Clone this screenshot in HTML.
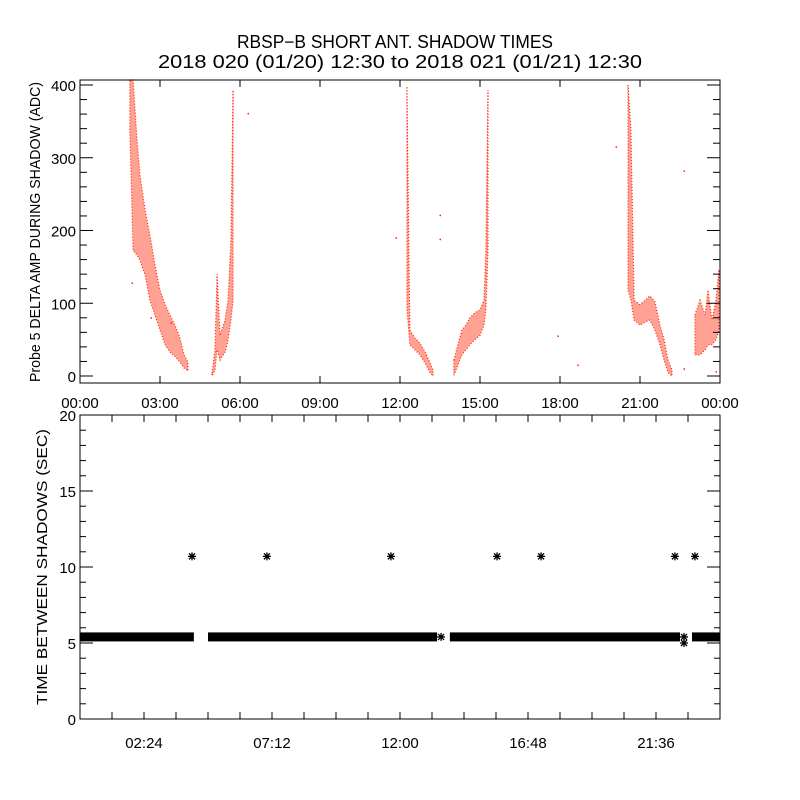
<!DOCTYPE html>
<html><head><meta charset="utf-8"><style>
body{margin:0;background:#fff}
svg{display:block;font-family:"Liberation Sans",sans-serif}
</style></head><body>
<svg id="c" width="800" height="800" viewBox="0 0 800 800">
<rect width="800" height="800" fill="#fff"/>
<text x="395" y="48" font-size="18" text-anchor="middle" textLength="316" lengthAdjust="spacingAndGlyphs">RBSP−B SHORT ANT. SHADOW TIMES</text>
<text x="400" y="68" font-size="18" text-anchor="middle" textLength="484" lengthAdjust="spacingAndGlyphs">2018 020 (01/20) 12:30 to 2018 021 (01/21) 12:30</text>
<text transform="translate(40,232) rotate(-90)" font-size="15" text-anchor="middle" textLength="300" lengthAdjust="spacingAndGlyphs">Probe 5 DELTA AMP DURING SHADOW (ADC)</text>
<text transform="translate(47,567) rotate(-90)" font-size="15" text-anchor="middle" textLength="276" lengthAdjust="spacingAndGlyphs">TIME BETWEEN SHADOWS (SEC)</text>
<g id="topPanel"></g><g id="botPanel"></g>
</svg>
<script>
// ---- top panel data: envelope samples [hour, low, high] ----
const pass1 = [[1.87,338,407],[1.99,173,407],[2.14,166,324],[2.25,159,276],[2.44,139,228],[2.62,104,194],[2.81,84,153],[3.0,63,118],[3.19,43,98],[3.37,33,84],[3.56,27,70],[3.75,19,52],[3.9,11,29],[4.05,7,19]];
const pass2 = [[4.95,0,4],[5.06,8,36],[5.14,36,140],[5.25,22,56],[5.44,33,77],[5.55,49,104],[5.66,77,187],[5.74,104,393]];
const pass3 = [[12.26,93,397],[12.37,43,63],[12.56,36,52],[12.75,29,45],[12.94,18,33],[13.12,5,19],[13.24,0,8]];
const pass4 = [[14.02,1,22],[14.17,15,43],[14.32,29,63],[14.47,36,70],[14.62,43,80],[14.81,50,87],[15.0,56,91],[15.15,70,104],[15.22,91,173],[15.3,173,393]];
const pass5 = [[20.55,118,400],[20.66,104,338],[20.78,77,104],[21.0,70,98],[21.19,74,104],[21.37,77,110],[21.56,63,102],[21.75,43,70],[21.9,22,50],[22.05,5,22],[22.2,0,8]];
const pass6 = [[23.06,29,84],[23.25,29,104],[23.44,36,84],[23.55,43,118],[23.7,43,77],[23.85,50,104],[23.96,63,146]];
const strayHours = [13.5,13.5,11.85,17.92,18.67,20.1,22.65,22.65,23.85,6.3,1.95,2.66,3.41];
const strayValues = [221,188,190,55,15,315,282,10,6,361,128,80,73];
const topXTicks = ["00:00","03:00","06:00","09:00","12:00","15:00","18:00","21:00","00:00"];
const topYTicks = [0,100,200,300,400];
// ---- bottom panel data ----
const bandStarts = [0,4.8,13.87,22.95];
const bandEnds = [4.27,13.39,22.5,24];
const bandValue = 5.4;
const starHours = [4.2,7.01,11.66,15.64,17.29,22.31,23.06,13.54,22.65,22.65];
const starValues = [10.7,10.7,10.7,10.7,10.7,10.7,10.7,5.4,5.4,5.0];
const botXTicks = ["02:24","07:12","12:00","16:48","21:36"];
const botYTicks = [0,5,10,15,20];

const NS="http://www.w3.org/2000/svg";
function mk(p,t,a){const e=document.createElementNS(NS,t);for(const k in a)e.setAttribute(k,a[k]);p.appendChild(e);return e;}
const L=80,R=720;
const tx=h=>L+h*(R-L)/24;
const ty=v=>376-v*0.7275;
const bx=h=>L+h*(R-L)/24;
const by=v=>719-v*15.2;
const topG=document.getElementById('topPanel'), botG=document.getElementById('botPanel');

[pass1,pass2,pass3,pass4,pass5,pass6].forEach((ps,i)=>{
  let d="M"+ps.map(p=>tx(p[0])+","+ty(p[2])).join("L")+"L"+ps.slice().reverse().map(p=>tx(p[0])+","+ty(p[1])).join("L")+"Z";
  const e=mk(topG,'path',{d:d,fill:'#ff2200','fill-opacity':0.42,stroke:'#ff2200','stroke-width':1.2,'stroke-dasharray':'1 2'});
  
  
});
strayHours.forEach((h,i)=>{
  const e=mk(topG,'rect',{x:tx(h)-0.5,y:ty(strayValues[i])-0.5,width:1.5,height:1.5,fill:'#ff2200'});
  
  
});
const tf=mk(topG,'rect',{x:L,y:80,width:R-L,height:303,fill:'none',stroke:'#000','stroke-width':1});


topXTicks.forEach((t,i)=>{
  const x=tx(i*3);
  mk(topG,'line',{x1:x,x2:x,y1:383,y2:376,stroke:'#000'});
  mk(topG,'line',{x1:x,x2:x,y1:80,y2:87,stroke:'#000'});
  const e=mk(topG,'text',{x:x,y:408,'font-size':15,'text-anchor':'middle'});e.textContent=t;
  
  
});
for(let v=0;v<=400;v+=20){const y=ty(v),len=v%100==0?13:7;
  mk(topG,'line',{x1:L,x2:L+len,y1:y,y2:y,stroke:'#000'});mk(topG,'line',{x1:R,x2:R-len,y1:y,y2:y,stroke:'#000'});}
topYTicks.forEach(v=>{const e=mk(topG,'text',{x:76,y:ty(v)+6,'font-size':15,'text-anchor':'end'});e.textContent=v;
  
  });

bandStarts.forEach((s,i)=>{
  const e=mk(botG,'rect',{x:bx(s),y:by(bandValue)-4.5,width:bx(bandEnds[i])-bx(s),height:9,fill:'#000'});
  
  
});
starHours.forEach((h,i)=>{
  const x=bx(h),y=by(starValues[i]);
  const g=mk(botG,'path',{d:`M${x-4},${y}H${x+4}M${x},${y-4}V${y+4}M${x-3},${y-3}L${x+3},${y+3}M${x-3},${y+3}L${x+3},${y-3}`,stroke:'#000','stroke-width':1.3});
  
  
});
const bf=mk(botG,'rect',{x:L,y:415,width:R-L,height:304,fill:'none',stroke:'#000'});


for(let k=1;k<20;k++){const x=bx(k*1.2);
  mk(botG,'line',{x1:x,x2:x,y1:719,y2:712,stroke:'#000'});mk(botG,'line',{x1:x,x2:x,y1:415,y2:422,stroke:'#000'});}
botXTicks.forEach((t,i)=>{const e=mk(botG,'text',{x:bx(2.4+i*4.8),y:748,'font-size':15,'text-anchor':'middle'});e.textContent=t;
  
  });
for(let v=0;v<=20;v++){const y=by(v),len=v%5==0?13:6;
  mk(botG,'line',{x1:L,x2:L+len,y1:y,y2:y,stroke:'#000'});mk(botG,'line',{x1:R,x2:R-len,y1:y,y2:y,stroke:'#000'});}
botYTicks.forEach(v=>{const e=mk(botG,'text',{x:76,y:by(v)+6,'font-size':15,'text-anchor':'end'});e.textContent=v;
  
  });
</script>
</body></html>
